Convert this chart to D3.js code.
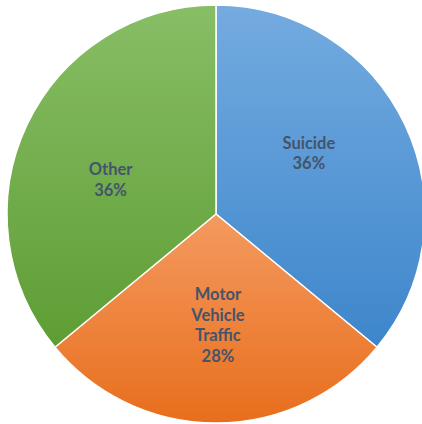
<!DOCTYPE html>
<html>
<head>
<meta charset="utf-8">
<script src="https://cdn.jsdelivr.net/npm/d3@7"></script>
<style>
  html, body { margin: 0; padding: 0; background: #fff; }
  svg { display: block; }
</style>
</head>
<body>
<svg id="chart" width="422" height="424"></svg>
<script>
"use strict";

/* global d3 */
var categories = ["Suicide", "Motor Vehicle Traffic", "Other"];
var labelLines = [["Suicide"], ["Motor", "Vehicle", "Traffic"], ["Other"]];
var shares = [36, 28, 36];

// light (top) / dark (bottom) fill per slice
var colorsTop = ["#74abe0", "#f49a60", "#88be66"];
var colorsBottom = ["#3d86cb", "#e86e1c", "#5e9d34"];

var cx = 216,
    cy = 214,
    radius = 209,
    labelRadius = 111,
    lineHeight = 20.5;

// Excel shifts the centred labels a little off the mid angle
var labelTurn = [-8, -1, -7];

var svg = d3.select("#chart");
var defs = svg.append("defs");

categories.forEach(function (c, i) {
    var g = defs.append("linearGradient")
        .attr("id", "grad" + i)
        .attr("x1", 0).attr("y1", 0)
        .attr("x2", 0).attr("y2", 1);
    g.append("stop").attr("offset", "0%").attr("stop-color", colorsTop[i]);
    g.append("stop").attr("offset", "100%").attr("stop-color", colorsBottom[i]);
});

var pie = d3.pie().sort(null).value(function (d) { return d; });
var arcs = pie(shares);
var arc = d3.arc().innerRadius(0).outerRadius(radius);

var root = svg.append("g").attr("transform", "translate(" + cx + "," + cy + ")");

root.selectAll("path.slice")
    .data(arcs)
    .enter().append("path")
    .attr("class", "slice")
    .attr("d", arc)
    .attr("fill", function (d, i) { return "url(#grad" + i + ")"; })
    .attr("stroke", "#fff")
    .attr("stroke-width", 1.5)
    .attr("stroke-linejoin", "round");

var labels = root.selectAll("text.label")
    .data(arcs)
    .enter().append("text")
    .attr("class", "label")
    .attr("text-anchor", "middle")
    .attr("font-family", "Lato, 'Open Sans', sans-serif")
    .attr("font-weight", "bold")
    .attr("font-size", 16.5)
    .attr("fill", "#44546a")
    .attr("transform", function (d, i) {
        var a = (d.startAngle + d.endAngle) / 2 + labelTurn[i] * Math.PI / 180;
        return "translate(" + (labelRadius * Math.sin(a)) + "," + (-labelRadius * Math.cos(a)) + ")";
    });

labels.each(function (d, i) {
    var lines = labelLines[i].concat([shares[i] + "%"]);
    var t = d3.select(this);
    var y0 = -(lines.length - 1) * lineHeight / 2 + 6;
    lines.forEach(function (l, k) {
        t.append("tspan")
            .attr("x", 0)
            .attr("y", y0 + k * lineHeight)
            .text(l);
    });
});
</script>
</body>
</html>
